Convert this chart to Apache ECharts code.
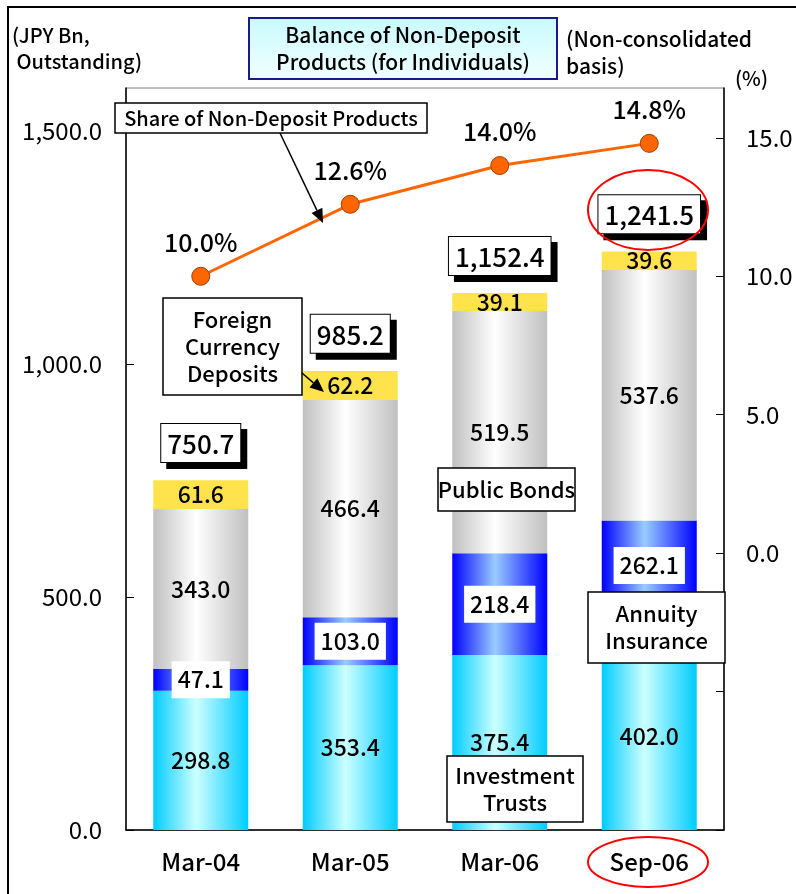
<!DOCTYPE html>
<html>
<head>
<meta charset="utf-8">
<script src="https://cdn.jsdelivr.net/npm/echarts@6/dist/echarts.min.js"></script>
<style>
  html, body { margin: 0; padding: 0; background: #fff; }
  #chart { width: 796px; height: 894px; }
</style>
</head>
<body>
<div id="chart"></div>
<script>
// values
const categories = ['Mar-04', 'Mar-05', 'Mar-06', 'Sep-06'];
const investmentTrusts = [298.8, 353.4, 375.4, 402.0];
const annuityInsurance = [47.1, 103.0, 218.4, 262.1];
const publicBonds = [343.0, 466.4, 519.5, 537.6];
const foreignCurrency = [61.6, 62.2, 39.1, 39.6];
const totals = [750.7, 985.2, 1152.4, 1241.5];
const shareNonDeposit = [10.0, 12.6, 14.0, 14.8];

const FONT = '"Noto Sans CJK JP", "Noto Sans", sans-serif';

function hGrad(edge, mid) {
    return new echarts.graphic.LinearGradient(0, 0, 1, 0, [
        { offset: 0, color: edge },
        { offset: 0.45, color: mid },
        { offset: 1, color: edge },
    ]);
}

function fmtNum(v) {
    return Number(v).toLocaleString('en-US', { minimumFractionDigits: 1, maximumFractionDigits: 1 });
}

// box with text lines (z set on each element so it sits above the bars)
function box(x, y, w, h, lines, fontSize) {
    return [
        { type: 'rect', z: 100, shape: { x: x, y: y, width: w, height: h }, style: { fill: '#fff', stroke: '#000', lineWidth: 1.5 } },
        {
            type: 'text', z: 101, x: x + w / 2, y: y + h / 2,
            style: {
                text: lines.join('\n'), align: 'center', verticalAlign: 'middle',
                font: '500 ' + fontSize + 'px ' + FONT, fill: '#000', lineHeight: fontSize + 5,
            },
        },
    ];
}

function arrow(x1, y1, x2, y2) {
    const dx = x2 - x1, dy = y2 - y1, len = Math.sqrt(dx * dx + dy * dy);
    const ux = dx / len, uy = dy / len, L = 14, W = 6;
    const bx = x2 - ux * L, by = y2 - uy * L;
    return [
        { type: 'line', z: 102, shape: { x1: x1, y1: y1, x2: bx, y2: by }, style: { stroke: '#000', lineWidth: 1.5 } },
        { type: 'polygon', z: 102, shape: { points: [[x2, y2], [bx - uy * W, by + ux * W], [bx + uy * W, by - ux * W]] }, style: { fill: '#000' } },
    ];
}

function plainText(x, y, text, size, align) {
    return {
        type: 'text', x: x, y: y, z: 100,
        style: { text: text, font: '500 ' + size + 'px ' + FONT, fill: '#000', align: align || 'left', verticalAlign: 'middle', lineHeight: size + 6 },
    };
}

const segLabel = {
    show: true, position: 'inside', color: '#000',
    fontFamily: FONT, fontSize: 23, fontWeight: 500,
    formatter: (p) => fmtNum(p.value),
};

const totalLabel = {
    show: true, position: 'top', distance: 18, color: '#000',
    fontFamily: FONT, fontSize: 26, fontWeight: 500,
    backgroundColor: '#fff', borderColor: '#000', borderWidth: 1,
    padding: [7, 6, 5, 6],
    formatter: (p) => fmtNum(p.value),
};

const chart = echarts.init(document.getElementById('chart'), null, { renderer: 'canvas' });

chart.setOption({
    animation: false,
    backgroundColor: '#fff',
    textStyle: { fontFamily: FONT },
    grid: { left: 126, right: 72, top: 88, bottom: 64, show: true, borderColor: '#808080', borderWidth: 1 },
    xAxis: {
        type: 'category', data: categories,
        axisLine: { lineStyle: { color: '#000', width: 1.5 } },
        axisTick: { inside: true, length: 8, lineStyle: { color: '#000' } },
        axisLabel: { color: '#000', fontSize: 24, fontWeight: 500, fontFamily: FONT, margin: 20 },
    },
    yAxis: [
        {
            type: 'value', min: 0, max: 1592, interval: 500,
            axisLine: { show: true, lineStyle: { color: '#000', width: 1.5 } },
            axisTick: { show: true, inside: true, length: 8, lineStyle: { color: '#000' } },
            splitLine: { show: false },
            axisLabel: {
                color: '#000', fontSize: 24, fontFamily: FONT, margin: 24, showMaxLabel: false,
                formatter: (v) => (v <= 1500 ? fmtNum(v) : ''),
            },
        },
        {
            type: 'value', min: -10, max: 16.8, interval: 5, position: 'right',
            axisLine: { show: true, lineStyle: { color: '#000', width: 1.5 } },
            axisTick: { show: true, inside: true, length: 8, lineStyle: { color: '#000' } },
            splitLine: { show: false },
            axisLabel: {
                color: '#000', fontSize: 24, fontFamily: FONT, margin: 22, showMaxLabel: false,
                formatter: (v) => (v >= 0 && v <= 15 ? v.toFixed(1) : ''),
            },
        },
    ],
    series: [
        {
            name: 'Investment Trusts', type: 'bar', stack: 'bal', barWidth: 95,
            itemStyle: { color: hGrad('#00CCFF', '#CCFFFF') },
            label: segLabel, data: investmentTrusts,
        },
        {
            name: 'Annuity Insurance', type: 'bar', stack: 'bal',
            itemStyle: { color: hGrad('#0000FF', '#99CCFF') },
            label: { ...segLabel, backgroundColor: '#fff', padding: [8, 6, 6, 6] },
            // last label sits a bit higher so the callout box doesn't hide it
            data: annuityInsurance.map((v, i) => (i === 3 ? { value: v, label: { offset: [0, -16] } } : v)),
        },
        {
            name: 'Public Bonds', type: 'bar', stack: 'bal',
            itemStyle: { color: hGrad('#C0C0C0', '#FFFFFF') },
            label: segLabel, data: publicBonds,
        },
        {
            name: 'Foreign Currency Deposits', type: 'bar', stack: 'bal',
            itemStyle: { color: '#FFE34D' },
            label: segLabel, data: foreignCurrency,
        },
        {
            // black drop shadow behind the total boxes
            name: 'Total shadow', type: 'scatter', symbolSize: 0, z: 9, silent: true,
            itemStyle: { opacity: 1 },
            data: totals,
            label: { ...totalLabel, color: 'rgba(0,0,0,0)', backgroundColor: '#000', offset: [6, 6] },
        },
        {
            name: 'Total', type: 'scatter', symbolSize: 0, z: 10,
            itemStyle: { opacity: 1 },
            data: totals,
            label: totalLabel,
        },
        {
            name: 'Share of Non-Deposit Products', type: 'line', yAxisIndex: 1, z: 5,
            data: shareNonDeposit,
            symbol: 'circle', symbolSize: 18,
            lineStyle: { color: '#FF6600', width: 3 },
            itemStyle: { color: '#FF6600', borderColor: '#A04000', borderWidth: 1 },
            label: {
                show: true, position: 'top', distance: 12, color: '#000',
                fontFamily: FONT, fontSize: 25, fontWeight: 500,
                formatter: (p) => p.value.toFixed(1) + '%',
            },
        },
    ],
    graphic: [].concat(
        [
            // outer frame (top and left edges)
            { type: 'line', z: 100, shape: { x1: 7, y1: 7, x2: 796, y2: 7 }, style: { stroke: '#000', lineWidth: 2 } },
            { type: 'line', z: 100, shape: { x1: 8, y1: 7, x2: 8, y2: 894 }, style: { stroke: '#000', lineWidth: 2 } },
            // title
            {
                type: 'rect', z: 100, shape: { x: 249, y: 18, width: 308, height: 61 },
                style: {
                    fill: new echarts.graphic.LinearGradient(0, 0, 0, 1, [
                        { offset: 0, color: '#C8FAFF' }, { offset: 1, color: '#F2FFFF' },
                    ]),
                    stroke: '#1A1A8C', lineWidth: 2,
                },
            },
            plainText(403, 49, 'Balance of Non-Deposit\nProducts (for Individuals)', 21, 'center'),
            plainText(12, 48, '(JPY Bn,\n Outstanding)', 20),
            plainText(566, 53, '(Non-consolidated\nbasis)', 21),
            plainText(735, 78, '(%)', 20),
        ],
        box(115, 103, 312, 30, ['Share of Non-Deposit Products'], 20),
        arrow(280, 133, 323, 223),
        box(163, 298, 139, 97, ['Foreign', 'Currency', 'Deposits'], 22),
        arrow(302, 373, 324, 392),
        box(438, 468, 137, 43, ['Public Bonds'], 22),
        box(588, 592, 137, 71, ['Annuity', 'Insurance'], 22),
        box(447, 756, 136, 66, ['Investment', 'Trusts'], 22),
        [
            // highlights
            { type: 'ellipse', z: 103, shape: { cx: 648, cy: 210, rx: 60, ry: 40 }, style: { fill: 'none', stroke: '#FF0000', lineWidth: 2 } },
            { type: 'ellipse', z: 103, shape: { cx: 648, cy: 862, rx: 60, ry: 25 }, style: { fill: 'none', stroke: '#FF0000', lineWidth: 2 } },
        ]
    ),
});
</script>
</body>
</html>
